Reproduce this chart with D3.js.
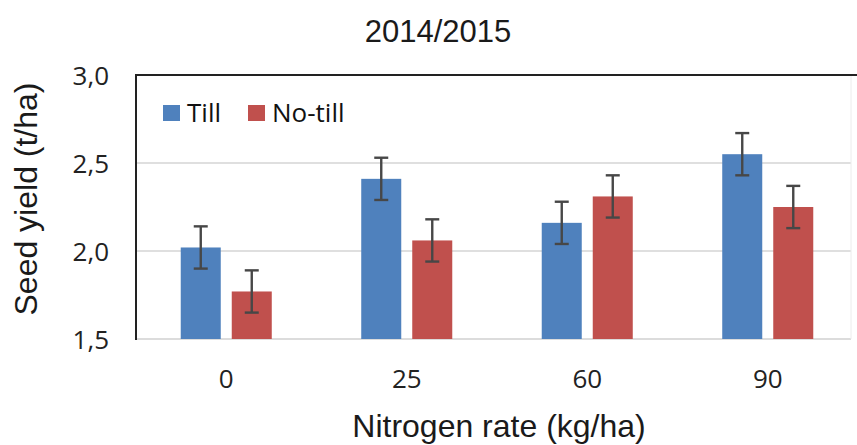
<!DOCTYPE html>
<html><head><meta charset="utf-8">
<script src="https://cdn.jsdelivr.net/npm/d3@7"></script>
<style>body{margin:0;background:#fff}svg{display:block}</style>
</head><body>
<svg id="c" width="857" height="445"></svg>
<script>
const categories = ["0", "25", "60", "90"];
const seriesNames = ["Till", "No-till"];
const tillValues = [2.02, 2.41, 2.16, 2.55];
const noTillValues = [1.77, 2.06, 2.31, 2.25];
const tillErrors = [0.12, 0.12, 0.12, 0.12];
const noTillErrors = [0.12, 0.12, 0.12, 0.12];
const yTicks = [1.5, 2.0, 2.5, 3.0];
const colors = ["#4F81BD", "#C0504D"];

(function () {
const svg = d3.select("#c");
const pLeft = 136, pRight = 858, pTop = 75, pBottom = 339, frameRight = 851;

const x = d3.scaleBand().domain(categories).range([pLeft, pRight]).paddingInner(0).paddingOuter(0);
const xs = d3.scaleBand().domain(seriesNames).range([0, x.bandwidth()]).paddingInner(0.2157).paddingOuter(0.877);
const y = d3.scaleLinear().domain([1.5, 3.0]).range([pBottom, pTop]);

// gridlines
svg.append("g").selectAll("line").data(yTicks.filter(t => t > 1.5 && t < 3.0)).join("line")
  .attr("x1", pLeft).attr("x2", frameRight).attr("y1", d => y(d)).attr("y2", d => y(d))
  .attr("stroke", "#d4d4d4").attr("stroke-width", 1.3);
// bottom line
svg.append("line").attr("x1", pLeft).attr("x2", frameRight).attr("y1", y(1.5)).attr("y2", y(1.5))
  .attr("stroke", "#d0d0d0").attr("stroke-width", 1.5);
// right faint line
svg.append("line").attr("x1", frameRight).attr("x2", frameRight).attr("y1", pTop).attr("y2", pBottom)
  .attr("stroke", "#ececec").attr("stroke-width", 1);

const data = categories.map((c, i) => ({
  cat: c,
  vals: [
    {s: seriesNames[0], v: tillValues[i], e: tillErrors[i], col: colors[0]},
    {s: seriesNames[1], v: noTillValues[i], e: noTillErrors[i], col: colors[1]}
  ]
}));

const g = svg.append("g").selectAll("g").data(data).join("g")
  .attr("transform", d => `translate(${x(d.cat)},0)`);
g.selectAll("rect").data(d => d.vals).join("rect")
  .attr("x", d => xs(d.s)).attr("width", xs.bandwidth())
  .attr("y", d => y(d.v)).attr("height", d => y(1.5) - y(d.v))
  .attr("fill", d => d.col);

const cx = d => xs(d.s) + xs.bandwidth() / 2;
const eb = g.selectAll("g.eb").data(d => d.vals).join("g").attr("class", "eb")
  .attr("stroke", "#474747").attr("stroke-width", 2.4);
eb.append("line").attr("x1", cx).attr("x2", cx)
  .attr("y1", d => y(d.v + d.e)).attr("y2", d => y(d.v - d.e));
eb.append("line").attr("x1", d => cx(d) - 7).attr("x2", d => cx(d) + 7)
  .attr("y1", d => y(d.v + d.e)).attr("y2", d => y(d.v + d.e));
eb.append("line").attr("x1", d => cx(d) - 7).attr("x2", d => cx(d) + 7)
  .attr("y1", d => y(d.v - d.e)).attr("y2", d => y(d.v - d.e));

// frame: left axis and top
svg.append("line").attr("x1", pLeft).attr("x2", pLeft).attr("y1", pTop - 1).attr("y2", pBottom + 1)
  .attr("stroke", "#222").attr("stroke-width", 2);
svg.append("line").attr("x1", pLeft - 1).attr("x2", 857).attr("y1", pTop).attr("y2", pTop)
  .attr("stroke", "#222").attr("stroke-width", 2);

// y axis tick labels
const yAxis = d3.axisLeft(y).tickValues(yTicks).tickSize(0).tickPadding(0)
  .tickFormat(d => d3.format(".1f")(d).replace(".", ","));
const ya = svg.append("g").attr("transform", `translate(${pLeft - 27},0)`).call(yAxis);
ya.select(".domain").remove();
ya.selectAll("text").attr("font-family", "'Open Sans', sans-serif").attr("font-size", 26)
  .attr("fill", "#222").attr("dy", "0.35em");

// x axis tick labels
const xAxis = d3.axisBottom(x).tickSize(0).tickPadding(0);
const xa = svg.append("g").attr("transform", `translate(0,${pBottom})`).call(xAxis);
xa.select(".domain").remove();
xa.selectAll("text").attr("font-family", "'Open Sans', sans-serif").attr("font-size", 26)
  .attr("fill", "#222").attr("dy", null).attr("y", 49);

// title
svg.append("text").attr("x", 438).attr("y", 42).attr("text-anchor", "middle")
  .attr("font-family", "'Liberation Sans', Arial, sans-serif").attr("font-size", 31).attr("fill", "#1a1a1a")
  .text("2014/2015");

// axis titles
svg.append("text").attr("x", 499).attr("y", 437).attr("text-anchor", "middle")
  .attr("font-family", "'Liberation Sans', Arial, sans-serif").attr("font-size", 32).attr("fill", "#1a1a1a")
  .text("Nitrogen rate (kg/ha)");
svg.append("text").attr("transform", "translate(37,199) rotate(-90)").attr("text-anchor", "middle")
  .attr("font-family", "'Liberation Sans', Arial, sans-serif").attr("font-size", 32).attr("fill", "#1a1a1a")
  .text("Seed yield (t/ha)");

// legend
const legX = [163, 248];
const lg = svg.append("g").selectAll("g").data(seriesNames).join("g")
  .attr("transform", (d, i) => `translate(${legX[i]},105)`);
lg.append("rect").attr("width", 17).attr("height", 16).attr("fill", (d, i) => colors[i]);
lg.append("text").attr("x", 24).attr("y", 17).attr("font-family", "'Open Sans', sans-serif")
  .attr("font-size", 26).attr("fill", "#111").text(d => d);
})();
</script>
</body></html>
